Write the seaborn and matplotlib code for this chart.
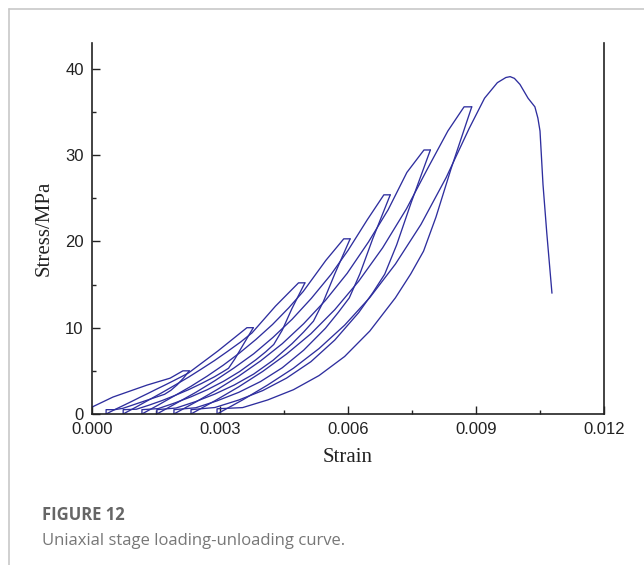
import numpy as np
import pandas as pd
import seaborn as sns
import matplotlib.pyplot as plt
from matplotlib.lines import Line2D
from matplotlib.ticker import MultipleLocator, FormatStrFormatter

# loading branch from origin to first peak
load_1_x = [0.0, 0.00049, 0.00129, 0.00183, 0.00213, 0.00228]
load_1_y = [0.8, 1.96, 3.35, 4.15, 5.0, 5.0]

# unloading branches (peak -> residual strain), lower-right side of each loop
unload_1_x = [0.00228, 0.00215, 0.002, 0.00185, 0.0017, 0.0015, 0.00131, 0.00111, 0.00092, 0.00072, 0.00053, 0.00033, 0.00033]
unload_1_y = [5.0, 4.2, 3.4, 2.75, 2.28, 1.95, 1.63, 1.3, 0.98, 0.65, 0.5, 0.5, 0.0]
unload_2_x = [0.00378, 0.00354, 0.00335, 0.0032, 0.00305, 0.00287, 0.00256, 0.00226, 0.00195, 0.00165, 0.00134, 0.00104, 0.00073, 0.00073]
unload_2_y = [10.0, 8.0, 6.4, 5.3, 4.84, 4.31, 3.52, 2.81, 2.16, 1.57, 1.03, 0.55, 0.5, 0.0]
unload_3_x = [0.00499, 0.00468, 0.00446, 0.00426, 0.00407, 0.00384, 0.00346, 0.00308, 0.0027, 0.00232, 0.00193, 0.00155, 0.00117, 0.00117]
unload_3_y = [15.2, 12.16, 9.73, 8.06, 7.2, 6.28, 4.92, 3.78, 2.81, 1.99, 1.26, 0.62, 0.5, 0.0]
unload_4_x = [0.00605, 0.00569, 0.00542, 0.00519, 0.00496, 0.00469, 0.00424, 0.00379, 0.00333, 0.00288, 0.00243, 0.00197, 0.00152, 0.00152]
unload_4_y = [20.3, 16.24, 13.0, 10.76, 9.5, 8.16, 6.21, 4.63, 3.35, 2.31, 1.44, 0.69, 0.5, 0.0]
unload_5_x = [0.00699, 0.00658, 0.00628, 0.00603, 0.00577, 0.00547, 0.00496, 0.00446, 0.00395, 0.00344, 0.00293, 0.00243, 0.00192, 0.00192]
unload_5_y = [25.4, 20.32, 16.26, 13.46, 11.76, 9.93, 7.39, 5.36, 3.76, 2.51, 1.52, 0.72, 0.5, 0.0]
unload_6_x = [0.00793, 0.00748, 0.00714, 0.00686, 0.00658, 0.00625, 0.00569, 0.00513, 0.00456, 0.004, 0.00344, 0.00288, 0.00232, 0.00232]
unload_6_y = [30.6, 24.5, 19.6, 16.2, 14.05, 11.75, 8.57, 6.06, 4.16, 2.71, 1.62, 0.75, 0.5, 0.0]
unload_7_x = [0.0089, 0.00842, 0.00806, 0.00777, 0.00747, 0.00711, 0.00651, 0.00592, 0.00532, 0.00472, 0.00412, 0.00353, 0.00293, 0.00293]
unload_7_y = [35.6, 28.5, 22.8, 18.87, 16.23, 13.46, 9.61, 6.66, 4.45, 2.81, 1.63, 0.74, 0.6, 0.0]

# reloading branches (residual strain -> under old peak -> next peak)
reload_2_x = [0.00033, 0.00053, 0.00072, 0.00092, 0.00111, 0.00131, 0.0015, 0.0017, 0.00189, 0.00208, 0.00226, 0.00295, 0.00363, 0.00378]
reload_2_y = [0.0, 0.5, 0.95, 1.43, 1.9, 2.38, 2.85, 3.33, 3.8, 4.28, 4.75, 7.3, 10.0, 10.0]
reload_3_x = [0.00073, 0.00104, 0.00134, 0.00165, 0.00195, 0.00226, 0.00256, 0.00287, 0.00317, 0.00348, 0.00375, 0.0043, 0.00484, 0.00499]
reload_3_y = [0.0, 0.82, 1.65, 2.5, 3.36, 4.26, 5.2, 6.19, 7.23, 8.33, 9.4, 12.5, 15.2, 15.2]
reload_4_x = [0.00117, 0.00155, 0.00193, 0.00232, 0.0027, 0.00308, 0.00346, 0.00384, 0.00423, 0.00461, 0.00495, 0.00548, 0.0059, 0.00605]
reload_4_y = [0.0, 1.03, 2.1, 3.21, 4.39, 5.67, 7.08, 8.63, 10.37, 12.3, 14.2, 17.8, 20.3, 20.3]
reload_5_x = [0.00152, 0.00197, 0.00243, 0.00288, 0.00333, 0.00379, 0.00424, 0.00469, 0.00514, 0.0056, 0.006, 0.00645, 0.00684, 0.00699]
reload_5_y = [0.0, 1.23, 2.5, 3.86, 5.34, 6.98, 8.87, 10.98, 13.4, 16.16, 18.96, 22.5, 25.4, 25.4]
reload_6_x = [0.00192, 0.00243, 0.00293, 0.00344, 0.00395, 0.00446, 0.00496, 0.00547, 0.00598, 0.00648, 0.00694, 0.00738, 0.00778, 0.00793]
reload_6_y = [0.0, 1.38, 2.82, 4.39, 6.15, 8.15, 10.46, 13.16, 16.3, 19.94, 23.67, 28.0, 30.6, 30.6]
reload_7_x = [0.00232, 0.00288, 0.00344, 0.004, 0.00456, 0.00513, 0.00569, 0.00625, 0.00681, 0.00737, 0.00787, 0.00834, 0.00872, 0.0089]
reload_7_y = [0.0, 1.53, 3.15, 4.93, 6.95, 9.3, 12.09, 15.39, 19.25, 23.78, 28.49, 32.8, 35.6, 35.6]

# final loading to failure and post-peak drop
final_x = [0.00293, 0.00353, 0.00412, 0.00472, 0.00532, 0.00592, 0.00651, 0.00711, 0.00771, 0.0083, 0.00884,
           0.0092, 0.0095, 0.0097, 0.0098, 0.0099, 0.01003, 0.01022, 0.01038, 0.01045, 0.0105, 0.01057, 0.01066, 0.01078]
final_y = [0.0, 1.63, 3.37, 5.3, 7.58, 10.29, 13.49, 17.37, 21.97, 27.4, 33.1,
           36.6, 38.4, 39.0, 39.1, 38.9, 38.2, 36.6, 35.6, 34.3, 32.8, 26.6, 20.9, 14.0]

branches = [
    (load_1_x, load_1_y), (unload_1_x, unload_1_y), (reload_2_x, reload_2_y),
    (unload_2_x, unload_2_y), (reload_3_x, reload_3_y), (unload_3_x, unload_3_y),
    (reload_4_x, reload_4_y), (unload_4_x, unload_4_y), (reload_5_x, reload_5_y),
    (unload_5_x, unload_5_y), (reload_6_x, reload_6_y), (unload_6_x, unload_6_y),
    (reload_7_x, reload_7_y), (unload_7_x, unload_7_y), (final_x, final_y),
]

frames = []
for k, (bx, by) in enumerate(branches):
    frames.append(pd.DataFrame({"strain": bx, "stress": by, "seg": k}))
df = pd.concat(frames, ignore_index=True)

sns.set_style("ticks")
fig = plt.figure(figsize=(6.44, 5.65), dpi=100)
ax = fig.add_axes([0.1429, 0.2673, 0.7950, 0.6566])

sns.lineplot(data=df, x="strain", y="stress", units="seg", estimator=None,
             sort=False, color="#2e2e9e", linewidth=0.95, ax=ax)

ax.set_xlim(0, 0.012)
ax.set_ylim(0, 43)
ax.xaxis.set_major_locator(MultipleLocator(0.003))
ax.xaxis.set_minor_locator(MultipleLocator(0.0015))
ax.yaxis.set_major_locator(MultipleLocator(10))
ax.yaxis.set_minor_locator(MultipleLocator(5))
ax.xaxis.set_major_formatter(FormatStrFormatter("%.3f"))
ax.tick_params(which="both", direction="in", top=False, right=False,
               labelsize=12, width=1.0, color="#222222", labelcolor="#222222")
ax.tick_params(which="major", length=6, pad=6)
ax.tick_params(which="minor", length=3)
for lab in ax.get_xticklabels() + ax.get_yticklabels():
    lab.set_family("Liberation Sans")

ax.spines["top"].set_visible(False)
for s in ["left", "bottom", "right"]:
    ax.spines[s].set_linewidth(1.2)
    ax.spines[s].set_color("#222222")

ax.set_xlabel("Strain", family="Liberation Serif", fontsize=15, color="#222222", labelpad=8)
ax.set_ylabel("Stress/MPa", family="Liberation Serif", fontsize=15, color="#222222", labelpad=8)

# page frame and caption
fig.add_artist(Line2D([9 / 644, 1], [1 - 9 / 565, 1 - 9 / 565], color="#c8c8c8", linewidth=1.2))
fig.add_artist(Line2D([9 / 644, 9 / 644], [0, 1 - 9 / 565], color="#c8c8c8", linewidth=1.2))
fig.text(42 / 644, 1 - 520 / 565, "FIGURE 12", family="Open Sans", fontweight="bold",
         fontsize=12, color="#666666")
fig.text(42 / 644, 1 - 545 / 565, "Uniaxial stage loading-unloading curve.", family="Open Sans",
         fontsize=12, color="#777777")

fig.savefig("out.png", dpi=100)
